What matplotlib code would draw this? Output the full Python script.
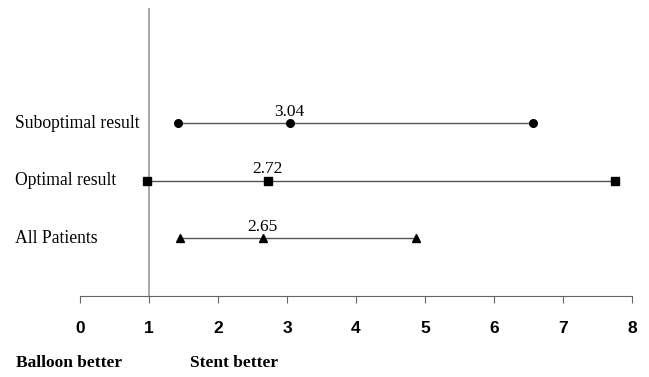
import matplotlib
matplotlib.use("Agg")
import matplotlib.pyplot as plt

# odds ratios with 95% CI
groups = ['All Patients', 'Optimal result', 'Suboptimal result']
estimate = [2.65, 2.72, 3.04]
lower = [1.45, 0.97, 1.42]
upper = [4.87, 7.75, 6.57]
markers = ['^', 's', 'o']
xticks = [0, 1, 2, 3, 4, 5, 6, 7, 8]


def main():
    fig = plt.figure(figsize=(6.49, 3.77), dpi=100)
    ax = fig.add_axes([80 / 649, 81 / 377, 552 / 649, 288 / 377])

    serif = 'Liberation Serif'
    for i, g in enumerate(groups):
        y = i + 1
        ax.plot([lower[i], upper[i]], [y, y], color='#555555', lw=1, zorder=1)
        ax.plot([lower[i], estimate[i], upper[i]], [y, y, y], ls='none',
                marker=markers[i], color='black', ms=5.5, zorder=2)
        ax.text(estimate[i], y + 0.06, '%.2f' % estimate[i], ha='center',
                va='bottom', fontsize=12.5, family=serif)
        fig.text(15 / 649, (81 + 57.6 * y) / 377, g, ha='left', va='center',
                 fontsize=12.7, family=serif)

    ax.axvline(1, color='#999999', lw=1.2, zorder=0)

    ax.set_xlim(0, 8)
    ax.set_ylim(0, 5)
    ax.set_xticks(xticks)
    ax.set_xticklabels([str(t) for t in xticks], fontweight='bold',
                       fontsize=12.5, family='Liberation Sans')
    ax.tick_params(axis='x', direction='out', length=5, width=0.8,
                   color='#666666', pad=13)
    ax.set_yticks([])
    for s in ['top', 'right', 'left']:
        ax.spines[s].set_visible(False)
    ax.spines['bottom'].set_color('#666666')
    ax.spines['bottom'].set_linewidth(0.8)

    fig.text(16 / 649, 1 - 363 / 377, 'Balloon better', fontweight='bold',
             fontsize=12.5, family=serif, va='center')
    fig.text(190 / 649, 1 - 363 / 377, 'Stent better', fontweight='bold',
             fontsize=12.5, family=serif, va='center')

    fig.savefig('out.png', dpi=100)


if __name__ == "__main__":
    main()
